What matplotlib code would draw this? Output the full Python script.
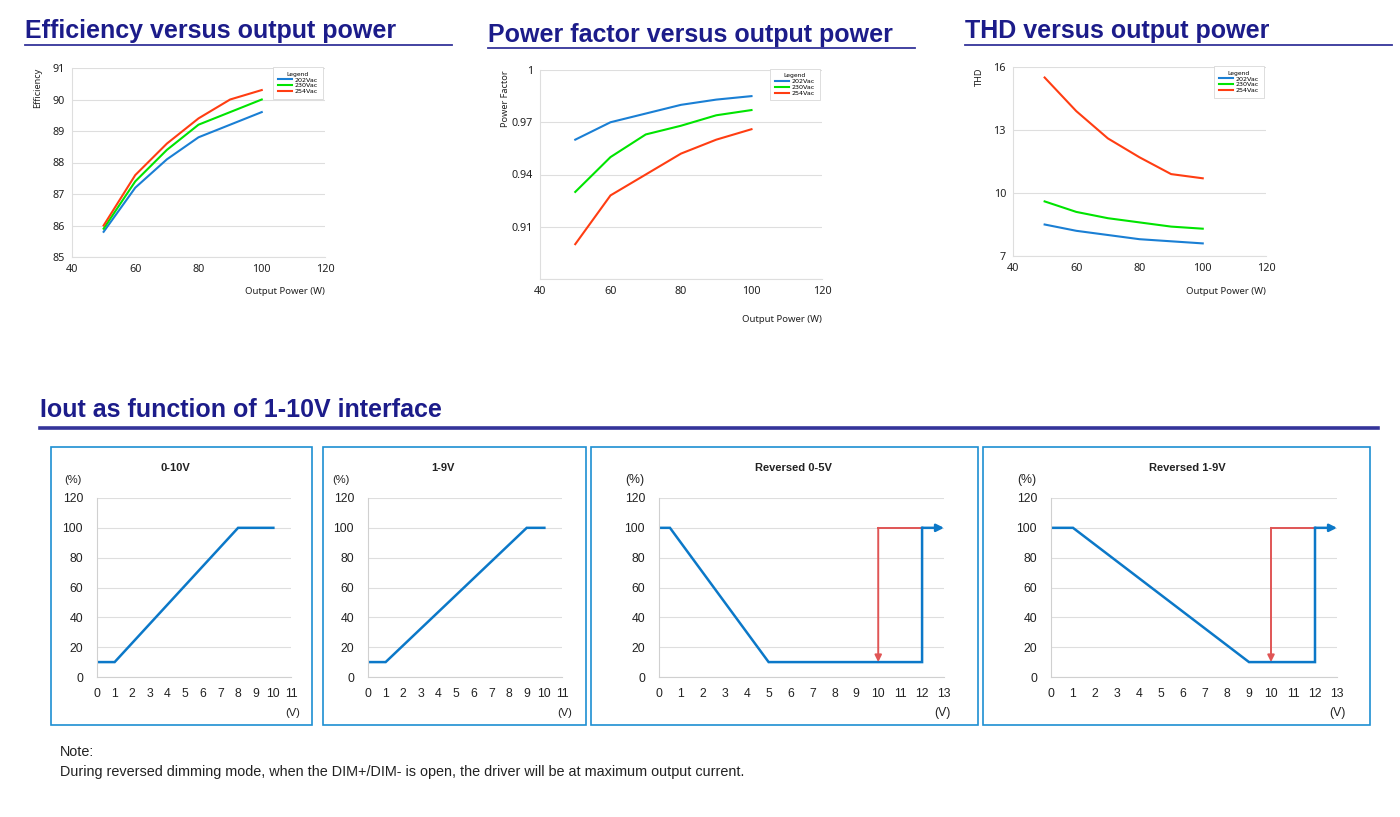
import numpy as np
import matplotlib
matplotlib.use("Agg")
import matplotlib.pyplot as plt
from matplotlib.patches import Rectangle
from matplotlib.lines import Line2D

W, H = 1400, 817

# performance curves
power = [50, 60, 70, 80, 90, 100]
series_names = ["202Vac", "230Vac", "254Vac"]
eff_202 = [85.8, 87.2, 88.1, 88.8, 89.2, 89.6]
eff_230 = [85.9, 87.4, 88.4, 89.2, 89.6, 90.0]
eff_254 = [86.0, 87.6, 88.6, 89.4, 90.0, 90.3]
pf_202 = [0.960, 0.970, 0.975, 0.980, 0.983, 0.985]
pf_230 = [0.930, 0.950, 0.963, 0.968, 0.974, 0.977]
pf_254 = [0.900, 0.928, 0.940, 0.952, 0.960, 0.966]
thd_202 = [8.5, 8.2, 8.0, 7.8, 7.7, 7.6]
thd_230 = [9.6, 9.1, 8.8, 8.6, 8.4, 8.3]
thd_254 = [15.5, 13.9, 12.6, 11.7, 10.9, 10.7]

# dimming curves
dim_0_10_v = [0, 1, 8, 10]
dim_0_10_pct = [10, 10, 100, 100]
dim_1_9_v = [0, 1, 9, 10]
dim_1_9_pct = [10, 10, 100, 100]
rev_0_5_v = [0, 0.5, 5, 12, 12]
rev_0_5_pct = [100, 100, 10, 10, 100]
rev_1_9_v = [0, 1, 9, 12, 12]
rev_1_9_pct = [100, 100, 10, 10, 100]
open_v = [12, 10]          # red path: open DIM+/DIM- jumps back
open_pct = [100, 10]

NAVY = "#1c1c8a"
BLUE_L = "#1a7fd4"
GREEN_L = "#00e400"
RED_L = "#ff3d12"
DIM_BLUE = "#0b78c8"
DIM_RED = "#e05555"
BOX = "#1e8fd2"
GRID = "#dedede"

fig = plt.figure(figsize=(W / 100, H / 100), dpi=100)


def px_axes(l, t, r, b):
    return fig.add_axes([l / W, 1 - b / H, (r - l) / W, (b - t) / H])


def heading(x, y, text, x_end, line_y, size, lw):
    fig.text(x / W, 1 - y / H, text, fontsize=size, fontweight="bold",
             color=NAVY, family="Liberation Sans", va="center", ha="left")
    fig.add_artist(Line2D([x / W, x_end / W], [1 - line_y / H, 1 - line_y / H],
                          color="#34349a", lw=lw, transform=fig.transFigure))


def perf_chart(box, ys, ylim, yticks, ylabels, ylabel, xlab_y):
    ax = px_axes(*box)
    for y, c, n in zip(ys, [BLUE_L, GREEN_L, RED_L], series_names):
        ax.plot(power, y, color=c, lw=1.5, label=n)
    ax.set_xlim(40, 120)
    ax.set_ylim(*ylim)
    ax.set_xticks([40, 60, 80, 100, 120])
    ax.set_yticks(yticks)
    ax.set_yticklabels(ylabels)
    ax.grid(axis="y", color=GRID, lw=0.8)
    ax.set_axisbelow(True)
    for s in ["top", "right"]:
        ax.spines[s].set_visible(False)
    for s in ["left", "bottom"]:
        ax.spines[s].set_color(GRID)
    ax.tick_params(length=0, labelsize=7.8, colors="#222222", pad=5)
    for lab in ax.get_xticklabels() + ax.get_yticklabels():
        lab.set_family("Noto Sans")
    h = box[3] - box[1]
    ax.text(1.0, (box[3] - xlab_y) / h, "Output Power (W)", transform=ax.transAxes,
            ha="right", va="center", fontsize=6.9, family="Noto Sans", color="#222222")
    ax.text(-34 / (box[2] - box[0]), 1.0, ylabel, transform=ax.transAxes,
            rotation=90, ha="center", va="top", fontsize=6.6, family="Noto Sans",
            color="#222222")
    leg = ax.legend(loc="upper right", bbox_to_anchor=(1.003, 1.02), title="Legend",
                    fontsize=4.6, title_fontsize=4.3, fancybox=False,
                    edgecolor="#d8d8d8", framealpha=1, handlelength=2.2,
                    labelspacing=0.05, borderpad=0.7, handletextpad=0.5)
    leg.get_frame().set_linewidth(0.6)
    return ax


heading(25, 31, "Efficiency versus output power", 452, 44.5, 18, 1.3)
heading(488, 35, "Power factor versus output power", 915, 48, 18, 1.3)
heading(965, 31, "THD versus output power", 1392, 44.5, 18, 1.3)

perf_chart((72, 68, 325, 257), [eff_202, eff_230, eff_254], (85, 91),
           [85, 86, 87, 88, 89, 90, 91], ["85", "86", "87", "88", "89", "90", "91"],
           "Efficiency", 292)
perf_chart((540, 70, 822, 279), [pf_202, pf_230, pf_254], (0.88, 1.0),
           [0.88, 0.91, 0.94, 0.97, 1.0], ["", "0.91", "0.94", "0.97", "1"],
           "Power Factor", 320)
perf_chart((1013, 67, 1266, 256), [thd_202, thd_230, thd_254], (7, 16),
           [7, 10, 13, 16], ["7", "10", "13", "16"], "THD", 292)

heading(40, 410, "Iout as function of 1-10V interface", 1378, 428, 18, 2.6)


def dim_panel(frame, box, title, vs, pcts, xmax, title_x, pct_x, v_x, reversed_mode):
    fl, ft, fr, fb = frame
    fig.add_artist(Rectangle((fl / W, 1 - fb / H), (fr - fl) / W, (fb - ft) / H,
                             transform=fig.transFigure, fill=False, edgecolor=BOX, lw=1.2))
    ax = px_axes(*box)
    if reversed_mode:
        ax.plot([open_v[1], open_v[0]], [open_pct[0], open_pct[0]], color=DIM_RED, lw=1.4)
        ax.annotate("", xy=(open_v[1], open_pct[1]), xytext=(open_v[1], open_pct[0]),
                    arrowprops=dict(arrowstyle="-|>", color=DIM_RED, lw=1.4,
                                    mutation_scale=10, shrinkA=0, shrinkB=0))
    ax.plot(vs, pcts, color=DIM_BLUE, lw=1.8, solid_joinstyle="miter")
    if reversed_mode:
        ax.annotate("", xy=(xmax, 100), xytext=(vs[-1], 100),
                    arrowprops=dict(arrowstyle="-|>", color=DIM_BLUE, lw=1.8,
                                    mutation_scale=11, shrinkA=0, shrinkB=0))
    ax.set_xlim(0, xmax)
    ax.set_ylim(0, 120)
    ax.set_xticks(range(0, xmax + 1))
    ax.set_yticks(range(0, 121, 20))
    ax.grid(axis="y", color=GRID, lw=0.8)
    ax.set_axisbelow(True)
    for s in ["top", "right"]:
        ax.spines[s].set_visible(False)
    for s in ["left", "bottom"]:
        ax.spines[s].set_color("#d0d0d0")
    ax.tick_params(length=0, labelsize=8.8, colors="#222222")
    ax.tick_params(axis="x", pad=8)
    ax.tick_params(axis="y", pad=10)
    for lab in ax.get_xticklabels() + ax.get_yticklabels():
        lab.set_family("Liberation Sans")
    fig.text(title_x / W, 1 - 468 / H, title, fontsize=8, fontweight="bold",
             ha="center", va="center", family="Liberation Sans", color="#222222")
    fs = 8 if not reversed_mode else 8.8
    fig.text(pct_x / W, 1 - 480 / H, "(%)", fontsize=fs,
             ha="center", va="center", family="Liberation Sans", color="#222222")
    fig.text(v_x / W, 1 - 713 / H, "(V)", fontsize=fs,
             ha="center", va="center", family="Liberation Sans", color="#222222")
    return ax


dim_panel((51, 447, 312, 725), (97, 498, 291, 677), "0-10V",
          dim_0_10_v, dim_0_10_pct, 11, 175, 73, 293, False)
dim_panel((323, 447, 586, 725), (368, 498, 562, 677), "1-9V",
          dim_1_9_v, dim_1_9_pct, 11, 443, 341, 565, False)
dim_panel((591, 447, 978, 725), (659, 498, 944, 677), "Reversed 0-5V",
          rev_0_5_v, rev_0_5_pct, 13, 793, 635, 942, True)
dim_panel((983, 447, 1370, 725), (1051, 498, 1337, 677), "Reversed 1-9V",
          rev_1_9_v, rev_1_9_pct, 13, 1187, 1027, 1337, True)

fig.text(60 / W, 1 - 752 / H, "Note:", fontsize=10.4, family="Liberation Sans",
         color="#222222", va="center")
fig.text(60 / W, 1 - 772 / H,
         "During reversed dimming mode, when the DIM+/DIM- is open, the driver will be at maximum output current.",
         fontsize=10.4, family="Liberation Sans", color="#222222", va="center")

fig.savefig("out.png", dpi=100)
